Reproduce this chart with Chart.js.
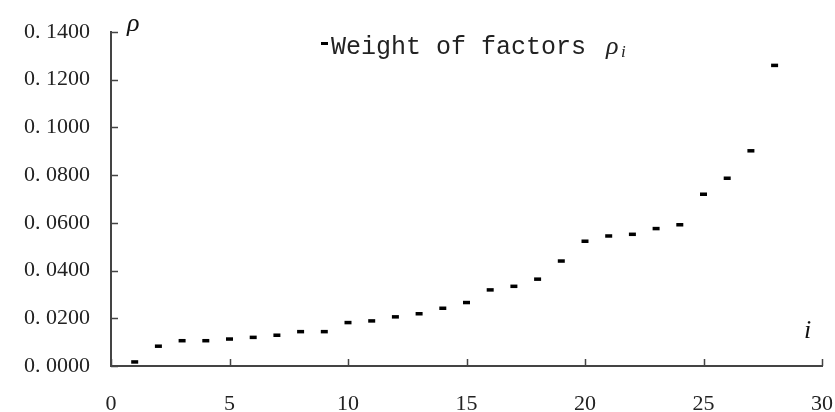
<!DOCTYPE html>
<html>
<head>
<meta charset="utf-8">
<script src="https://cdn.jsdelivr.net/npm/chart.js@4"></script>
<style>
  html, body { margin: 0; padding: 0; background: #fff; }
  #wrap { width: 835px; height: 412px; }
</style>
</head>
<body>
<div id="wrap"><canvas id="chart" width="835" height="412"></canvas></div>
<script>
// factor number i and its weight rho_i
const factorIndex = [1, 2, 3, 4, 5, 6, 7, 8, 9, 10, 11, 12, 13, 14,
  15, 16, 17, 18, 19, 20, 21, 22, 23, 24, 25, 26, 27, 28];
const weights = [0.0017, 0.0083, 0.0106, 0.0106, 0.0113, 0.0120, 0.0129, 0.0144,
  0.0144, 0.0182, 0.0189, 0.0206, 0.0219, 0.0242, 0.0266, 0.0319, 0.0334, 0.0364,
  0.0440, 0.0523, 0.0545, 0.0552, 0.0576, 0.0592, 0.0720, 0.0787, 0.0902, 0.1260];
const xTicks = [0, 5, 10, 15, 20, 25, 30];
const yTicks = [0, 0.02, 0.04, 0.06, 0.08, 0.10, 0.12, 0.14];

const AXIS = '#444';
const TICK_FONT = '"Liberation Serif", serif';

// inward tick marks, axis letters and the legend
const decorations = {
  id: 'decorations',
  afterDraw(chart) {
    const { ctx, chartArea: area, scales: { x, y } } = chart;
    ctx.save();
    ctx.strokeStyle = AXIS;
    ctx.lineWidth = 1.5;
    ctx.beginPath();
    xTicks.forEach((v) => {
      const px = Math.round(x.getPixelForValue(v)) + 0.5;
      ctx.moveTo(px, area.bottom);
      ctx.lineTo(px, area.bottom - 7);
    });
    yTicks.forEach((v) => {
      const py = Math.round(y.getPixelForValue(v)) + 0.5;
      ctx.moveTo(area.left, py);
      ctx.lineTo(area.left + 7, py);
    });
    ctx.stroke();

    ctx.fillStyle = '#111';
    ctx.textBaseline = 'alphabetic';
    ctx.font = 'italic 26px "Liberation Serif", serif';
    ctx.fillText('\u03c1', area.left + 16, 31);
    ctx.fillText('i', area.right - 18, 338);

    // legend
    ctx.fillStyle = '#000';
    ctx.fillRect(321, 42, 7, 3);
    ctx.fillStyle = '#222';
    ctx.font = '25px "Liberation Mono", monospace';
    ctx.fillText('Weight of factors', 331, 54);
    ctx.font = 'italic 26px "Liberation Serif", serif';
    ctx.fillText('\u03c1', 606, 54);
    ctx.font = 'italic 17px "Liberation Serif", serif';
    ctx.fillText('i', 621, 57);
    ctx.restore();
  },
};

new Chart(document.getElementById('chart'), {
  type: 'scatter',
  data: {
    datasets: [{
      label: 'Weight of factors \u03c1i',
      data: factorIndex.map((i, k) => ({ x: i, y: weights[k] })),
      pointStyle: 'line',
      pointRadius: 3.5,
      pointHoverRadius: 3.5,
      borderWidth: 3.5,
      borderColor: '#000',
      backgroundColor: '#000',
    }],
  },
  options: {
    responsive: false,
    animation: false,
    layout: { padding: { top: 32, right: 13, left: 0, bottom: 0 } },
    plugins: { legend: { display: false }, tooltip: { enabled: false } },
    scales: {
      x: {
        type: 'linear',
        min: 0,
        max: 30,
        afterBuildTicks: (scale) => { scale.ticks = xTicks.map((v) => ({ value: v })); },
        afterFit: (scale) => {
          scale.height = 46;
          scale.paddingLeft = 0;
          scale.paddingRight = 0;
        },
        grid: { display: false, drawTicks: false },
        border: { display: true, color: AXIS, width: 2 },
        ticks: {
          padding: 25,
          color: '#222',
          font: { family: TICK_FONT, size: 22 },
          maxRotation: 0,
        },
      },
      y: {
        min: 0,
        max: 0.14,
        afterBuildTicks: (scale) => { scale.ticks = yTicks.map((v) => ({ value: v })); },
        afterFit: (scale) => {
          scale.width = 111;
          scale.paddingTop = 0;
          scale.paddingBottom = 0;
        },
        grid: { display: false, drawTicks: false },
        border: { display: true, color: AXIS, width: 2 },
        ticks: {
          padding: 21,
          color: '#222',
          font: { family: TICK_FONT, size: 22 },
          callback: (v) => v.toFixed(4).replace('.', '. '),
        },
      },
    },
  },
  plugins: [decorations],
});
</script>
</body>
</html>
